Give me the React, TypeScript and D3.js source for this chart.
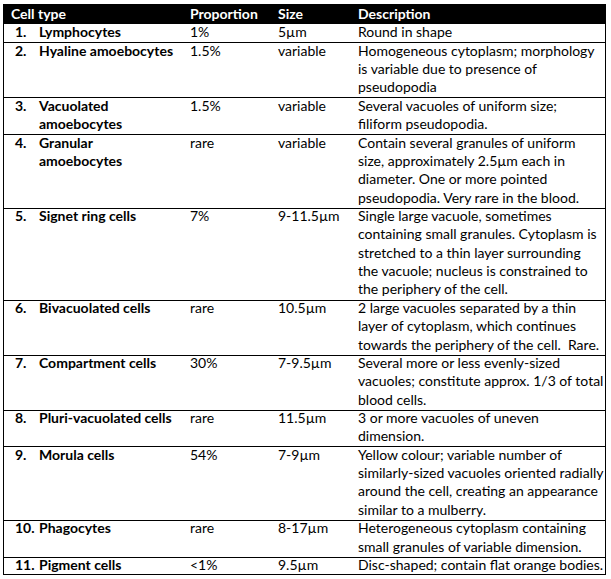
import React from "react";
import * as d3 from "d3";

const headers = ["Cell type", "Proportion", "Size", "Description"];
const numbers = ["1.", "2.", "3.", "4.", "5.", "6.", "7.", "8.", "9.", "10.", "11."];
const cellTypes = [
  ["Lymphocytes"],
  ["Hyaline amoebocytes"],
  ["Vacuolated", "amoebocytes"],
  ["Granular", "amoebocytes"],
  ["Signet ring cells"],
  ["Bivacuolated cells"],
  ["Compartment cells"],
  ["Pluri-vacuolated cells"],
  ["Morula cells"],
  ["Phagocytes"],
  ["Pigment cells"],
];
const proportions = ["1%", "1.5%", "1.5%", "rare", "7%", "rare", "30%", "rare", "54%", "rare", "<1%"];
const sizes = ["5µm", "variable", "variable", "variable", "9-11.5µm", "10.5µm", "7-9.5µm", "11.5µm", "7-9µm", "8-17µm", "9.5µm"];
const descriptions = [
  ["Round in shape"],
  ["Homogeneous cytoplasm; morphology", "is variable due to presence of", "pseudopodia"],
  ["Several vacuoles of uniform size;", "filiform pseudopodia."],
  ["Contain several granules of uniform", "size, approximately 2.5µm each in", "diameter. One or more pointed", "pseudopodia. Very rare in the blood."],
  ["Single large vacuole, sometimes", "containing small granules. Cytoplasm is", "stretched to a thin layer surrounding", "the vacuole; nucleus is constrained to", "the periphery of the cell."],
  ["2 large vacuoles separated by a thin", "layer of cytoplasm, which continues", "towards the periphery of the cell.  Rare."],
  ["Several more or less evenly-sized", "vacuoles; constitute approx. 1/3 of total", "blood cells."],
  ["3 or more vacuoles of uneven", "dimension."],
  ["Yellow colour; variable number of", "similarly-sized vacuoles oriented radially", "around the cell, creating an appearance", "similar to a mulberry."],
  ["Heterogeneous cytoplasm containing", "small granules of variable dimension."],
  ["Disc-shaped; contain flat orange bodies."],
];

const W = 611;
const H = 579;
const left = 3;
const right = 606;
const top = 4;
const headerBottom = 24;
const bottom = 575;
const colX = { num: 15, name: 39, prop: 190, size: 278, desc: 358, header: 11 };
const font = "Lato, 'Noto Sans', sans-serif";
const fs = 14;

export default function App() {
  const lineCounts = descriptions.map((d, i) => Math.max(d.length, cellTypes[i].length));
  const starts: number[] = [];
  let acc = 0;
  lineCounts.forEach((c) => {
    starts.push(acc);
    acc += c;
  });
  const y = d3.scaleLinear().domain([0, acc]).range([headerBottom, bottom]);
  const lh = y(1) - y(0);
  const baseOff = 13.3;

  return (
    <svg width={W} height={H} style={{ position: "absolute", left: 0, top: 0 }} fontFamily={font} fontSize={fs}>
      <rect x={0} y={0} width={W} height={H} fill="#fff" />
      <rect x={left} y={top} width={right - left} height={headerBottom - top} fill="#000" />
      {headers.map((h, i) => (
        <text key={h} x={[colX.header, colX.prop, colX.size, colX.desc][i]} y={top + 15.3} fill="#fff" fontWeight="bold">
          {h}
        </text>
      ))}
      {numbers.map((n, i) => {
        const r0 = y(starts[i]);
        return (
          <g key={n}>
            <text x={colX.num} y={r0 + baseOff} fontWeight="bold" fill="#000">{n}</text>
            {cellTypes[i].map((t, j) => (
              <text key={j} x={colX.name} y={r0 + baseOff + j * lh} fontWeight="bold" fill="#000">{t}</text>
            ))}
            <text x={colX.prop} y={r0 + baseOff} fill="#000">{proportions[i]}</text>
            <text x={colX.size} y={r0 + baseOff} fill="#000">{sizes[i]}</text>
            {descriptions[i].map((t, j) => (
              <text key={j} x={colX.desc} y={r0 + baseOff + j * lh} fill="#000" style={{ whiteSpace: "pre" }}>{t}</text>
            ))}
            {i > 0 && <line x1={left} x2={right} y1={Math.round(r0) + 0.5} y2={Math.round(r0) + 0.5} stroke="#000" strokeWidth={1} />}
          </g>
        );
      })}
      <rect x={left + 0.5} y={top + 0.5} width={right - left - 1} height={bottom - top - 1} fill="none" stroke="#000" strokeWidth={1} />
    </svg>
  );
}
